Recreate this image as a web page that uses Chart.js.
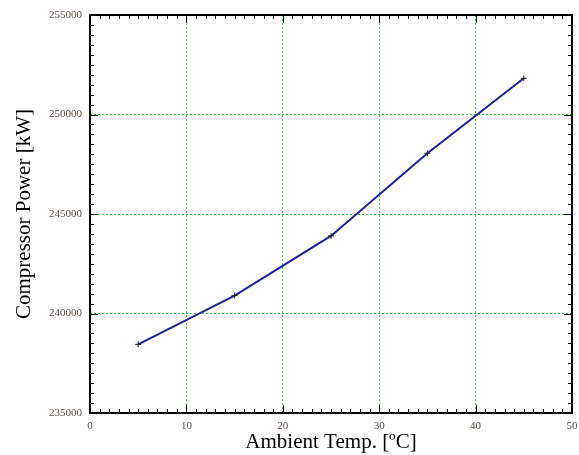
<!DOCTYPE html>
<html>
<head>
<meta charset="utf-8">
<script src="https://cdn.jsdelivr.net/npm/chart.js@4.4.0/dist/chart.umd.min.js"></script>
<style>
body{margin:0;background:#fff}
#wrap{width:579px;height:455px}
</style>
</head>
<body>
<div id="wrap"><canvas id="chart"></canvas></div>
<script>
// data
const temps = [5, 15, 25, 35, 45]
const power = [238450, 240900, 243900, 248050, 251820]
const xTicks = [0, 10, 20, 30, 40, 50]
const yTicks = [235000, 240000, 245000, 250000, 255000]

const serif = "'Liberation Serif', 'Times New Roman', serif"

// frame + inward tick marks like the original plot
const frameTicks = {
    id: "frameTicks",
    afterDraw(chart) {
        const ctx = chart.ctx
        const a = chart.chartArea
        const xs = chart.scales.x
        const ys = chart.scales.y
        ctx.save()
        ctx.strokeStyle = "#000"
        ctx.lineWidth = 1
        ctx.beginPath()
        for (let v = 0; v <= 50; v += 1) {
            const px = Math.round(xs.getPixelForValue(v)) + 0.5
            const len = v % 10 === 0 ? 8 : 4
            ctx.moveTo(px, a.bottom); ctx.lineTo(px, a.bottom - len)
            ctx.moveTo(px, a.top); ctx.lineTo(px, a.top + len)
        }
        for (let v = 235000; v <= 255000; v += 500) {
            const py = Math.round(ys.getPixelForValue(v)) + 0.5
            const len = v % 5000 === 0 ? 8 : 4
            ctx.moveTo(a.left, py); ctx.lineTo(a.left + len, py)
            ctx.moveTo(a.right, py); ctx.lineTo(a.right - len, py)
        }
        ctx.stroke()
        ctx.lineWidth = 2
        ctx.strokeRect(a.left, a.top, a.right - a.left, a.bottom - a.top)
        ctx.restore()
    }
}

new Chart(document.getElementById("chart"), {
    type: "line",
    data: {
        datasets: [{
            data: temps.map((t, i) => ({x: t, y: power[i]})),
            borderColor: "#1f1f99",
            borderWidth: 2,
            pointStyle: "cross",
            pointRadius: 3,
            pointBorderColor: "#222",
            pointBorderWidth: 1,
            tension: 0
        }]
    },
    options: {
        responsive: true,
        maintainAspectRatio: false,
        animation: false,
        layout: {padding: {top: 15, right: 7, left: 0, bottom: 0}},
        plugins: {legend: {display: false}, tooltip: {enabled: false}},
        scales: {
            x: {
                type: "linear",
                min: 0, max: 50,
                afterBuildTicks: s => { s.ticks = xTicks.map(v => ({value: v})) },
                afterFit: s => { s.height = 42; s.paddingLeft = 0; s.paddingRight = 0 },
                grid: {color: "#3cc43c", lineWidth: 1, drawTicks: false},
                border: {display: false, dash: [2, 2]},
                ticks: {font: {family: serif, size: 11}, color: "#5a5048", padding: 7},
                title: {display: true, text: "Ambient Temp. [ºC]", font: {family: serif, size: 21}, color: "#000", padding: {top: 0, bottom: 0}}
            },
            y: {
                type: "linear",
                min: 235000, max: 255000,
                afterBuildTicks: s => { s.ticks = yTicks.map(v => ({value: v})) },
                afterFit: s => { s.width = 90; s.paddingTop = 0; s.paddingBottom = 0 },
                grid: {color: "#3cc43c", lineWidth: 1, drawTicks: false},
                border: {display: false, dash: [2, 2]},
                ticks: {font: {family: serif, size: 11}, color: "#5a5048", padding: 8, callback: v => String(v)},
                title: {display: true, text: "Compressor Power [kW]", font: {family: serif, size: 21}, color: "#000", padding: {top: 12, bottom: 0}}
            }
        }
    },
    plugins: [frameTicks]
})
</script>
</body>
</html>
